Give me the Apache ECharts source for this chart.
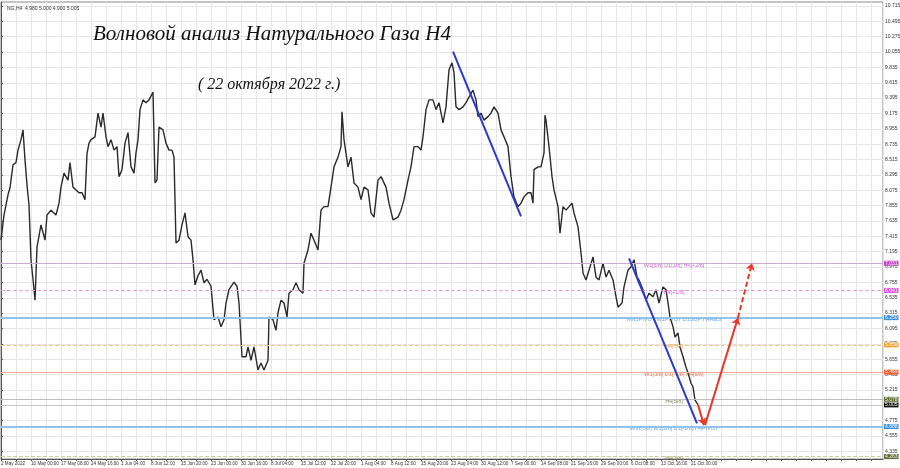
<!DOCTYPE html>
<html><head><meta charset="utf-8">
<script src="https://cdn.jsdelivr.net/npm/echarts/dist/echarts.min.js"></script>
<style>html,body{margin:0;padding:0;background:#fff}#c{width:900px;height:468px}</style>
</head><body><div id="c"></div>
<script>
// ---- data ----
const barIndex = [0,3,7,9,12,15,17,20,22,24,26,28,30,32,34,36,40,44,46,50,55,58,60,63,67,69,72,75,78,81,84,86,88,90,94,97,100,102,105,107,110,113,116,118,121,124,127,130,133,135,137,139,142,145,148,150,152,154,156,158,162,165,168,171,173,175,178,181,184,187,190,192,194,197,200,203,206,210,213,217,220,223,225,228,233,236,238,241,245,247,250,253,257,260,263,267,268,272,275,277,280,283,286,288,292,295,298,302,303,307,310,313,317,320,323,327,330,333,337,340,341,343,347,350,353,357,360,363,367,370,373,377,380,385,388,392,397,400,403,407,410,413,417,420,422,425,428,432,435,438,442,445,448,451,453,455,458,462,465,468,472,475,477,480,483,487,490,493,497,500,503,507,510,513,517,520,523,527,530,532,533,537,540,543,544,545,548,551,553,557,559,562,565,568,571,573,577,580,582,585,588,592,595,598,602,605,608,612,615,617,621,623,627,630,633,636,638,642,645,648,652,655,658,662,665,667,669,672,674,677,679,682,685,687,690,692,694,697];
const closePrice = [7.36,7.72,8.01,8.11,8.44,8.47,8.65,8.80,8.94,8.51,8.15,7.86,7.08,6.80,6.50,7.26,7.58,7.36,7.72,7.79,7.72,7.89,8.12,8.32,8.22,8.47,8.12,8.08,8.04,8.04,7.94,8.60,8.75,8.80,8.84,9.18,8.98,9.18,8.84,8.70,8.80,8.65,8.70,8.27,8.37,8.75,8.90,8.41,8.32,8.61,8.80,9.23,9.37,9.33,9.37,9.37,9.48,8.18,8.22,8.98,8.94,8.75,8.65,8.65,8.55,7.32,7.36,7.58,7.75,7.41,7.36,7.08,6.72,6.85,6.93,6.75,6.80,6.70,6.22,6.26,6.12,6.22,6.46,6.65,6.76,6.70,6.46,5.69,5.69,5.83,5.64,5.83,5.50,5.60,5.50,5.64,6.26,6.22,6.07,6.32,6.50,6.46,6.26,6.60,6.65,6.75,6.65,6.60,7.03,7.22,7.46,7.36,7.22,7.79,7.84,7.84,8.12,8.41,8.55,8.70,9.20,8.80,8.41,8.55,8.18,8.12,7.94,8.12,8.08,7.75,7.69,8.22,8.27,8.12,7.89,7.65,7.69,7.79,7.94,8.22,8.41,8.70,8.70,8.65,8.84,9.23,9.37,9.37,9.23,9.33,9.04,9.27,9.80,9.90,9.76,9.27,9.23,9.27,9.33,9.41,9.51,9.37,9.13,9.18,9.08,9.13,9.18,9.27,9.18,8.94,8.84,8.70,8.27,7.98,7.84,7.89,7.98,8.04,8.04,7.89,8.37,8.41,8.41,8.61,9.15,9.08,8.70,8.27,8.08,7.84,7.46,7.84,7.79,7.84,7.89,7.75,7.55,7.18,6.89,6.79,6.93,7.12,6.83,6.79,7.03,6.83,6.93,6.79,6.55,6.40,6.46,6.69,6.93,6.98,7.08,6.83,6.79,6.65,6.50,6.60,6.55,6.65,6.46,6.69,6.65,6.46,6.26,6.12,5.97,6.03,5.83,5.69,5.54,5.46,5.31,5.26,5.07,5.005];
const yTickValues = [4.335,4.555,4.775,4.995,5.215,5.435,5.655,5.875,6.095,6.315,6.535,6.755,6.975,7.195,7.415,7.635,7.855,8.075,8.295,8.515,8.735,8.955,9.175,9.395,9.615,9.835,10.055,10.275,10.495,10.715];
const xTickLabels = ['2 May 2022','10 May 00:00','17 May 08:00','24 May 16:00','1 Jun 04:00','8 Jun 12:00','15 Jun 20:00','23 Jun 00:00','30 Jun 16:00','8 Jul 04:00','15 Jul 12:00','22 Jul 20:00','1 Aug 04:00','8 Aug 12:00','15 Aug 20:00','23 Aug 04:00','30 Aug 12:00','7 Sep 00:00','14 Sep 08:00','21 Sep 16:00','29 Sep 00:00','6 Oct 08:00','13 Oct 16:00','21 Oct 00:00'];
const levelValues = [7.031,6.641,6.250,5.859,5.469,5.078,5.005,4.688,4.263];
const levelTexts = ['W1[5/8] D1[1/8] H4[+2/8]','H4[+1/8]','MN1PIVOT W1PIVOT D1SUP H4RES','H4[7/8]','W1[3/8] D1[-1/8] H4[6/8]','H4[5/8]','','MN1[3/8] W1[2/8] D1[-2/8] H4PIVOT','H4[3/8]'];
const waveA = [[452,10.06],[520,7.70]];
const waveB = [[628,7.10],[696,4.736]];
const forecastDown = [[697,5.00],[703,4.71]];
const forecastUp = [[704,4.71],[737,6.25]];
const forecastNext = [[737,6.25],[751,7.03]];
const headerText = 'NG,H4  4.980 5.000 4.900 5.005';
const titleText = 'Волновой анализ Натурального Газа H4';
const dateText = '( 22 октября 2022 г.)';

// ---- styles ----
const levelStyle = [
  {line:'#cfa9d6', type:'solid', w:1, box:'#c23fc6', txt:'#b93cc0'},
  {line:'#e5a6cf', type:'dashed', w:1, box:'#e04ee0', txt:'#c83fc8'},
  {line:'#8fc3ec', type:'solid', w:2, box:'#3a8fe0', txt:'#3f8fd8'},
  {line:'#f4c98e', type:'dashed', w:1, box:'#f0a22e', txt:'#d88f1c'},
  {line:'#f2ab98', type:'solid', w:1, box:'#ee5a2a', txt:'#d8602c'},
  {line:'#bdbdbd', type:'solid', w:1, box:'#5c6b30', txt:'#5f6c35'},
  {line:'#c8c8c8', type:'solid', w:1, box:'#111111', txt:'#333'},
  {line:'#8fc3ec', type:'solid', w:2, box:'#3a8fe0', txt:'#3f8fd8'},
  {line:'#cfcf9a', type:'dashed', w:1, box:'#5c6b30', txt:'#77774a'}
];
const LABEL_X = 673;

const chart = echarts.init(document.getElementById('c'));

chart.setOption({
  animation: false,
  backgroundColor: '#ffffff',
  title: [
    {text: headerText, left: 2, top: 1, textStyle: {fontSize: 5, fontWeight: 'normal', color: '#333', fontFamily: 'Liberation Sans'}},
    {text: titleText, left: 88, top: 19, textStyle: {fontSize: 21, fontStyle: 'italic', fontWeight: 'normal', color: '#111', fontFamily: 'Liberation Serif'}},
    {text: dateText, left: 193, top: 72, textStyle: {fontSize: 16, fontStyle: 'italic', fontWeight: 'normal', color: '#111', fontFamily: 'Liberation Serif'}}
  ],
  grid: {left: 1, right: 17, top: 2, bottom: 9, show: true, borderColor: '#8a8a8a', borderWidth: 1, containLabel: false, outerBoundsMode: 'none'},
  xAxis: {
    type: 'value', min: 0, max: 882, interval: 15,
    axisLine: {show: true, lineStyle: {color: '#555'}},
    axisTick: {show: true, length: 2, lineStyle: {color: '#555'}},
    splitLine: {show: true, lineStyle: {color: '#e6e6e6', width: 1}},
    axisLabel: {
      fontSize: 4.6, color: '#333', margin: 2, align: 'left', fontFamily: 'Liberation Sans',
      showMinLabel: true, showMaxLabel: false,
      formatter: v => (v % 30 === 0 && xTickLabels[v / 30]) ? xTickLabels[v / 30] : ''
    }
  },
  yAxis: {
    type: 'value', position: 'right', min: 4.225, max: 10.772, scale: true,
    axisLine: {show: true, lineStyle: {color: '#555'}},
    axisTick: {show: true, length: 2, customValues: yTickValues, lineStyle: {color: '#555'}},
    splitLine: {show: true, lineStyle: {color: '#e6e6e6', width: 1}},
    axisLabel: {fontSize: 5, color: '#333', margin: 2, fontFamily: 'Liberation Sans', customValues: yTickValues, formatter: v => v.toFixed(3)}
  },
  series: [
    {
      name: 'NG', type: 'line', showSymbol: false, symbol: 'none',
      data: barIndex.map((x, i) => [x, closePrice[i]]),
      lineStyle: {color: '#2a2a2a', width: 1.4},
      z: 3,
      markLine: {
        silent: true, symbol: ['none', 'none'], animation: false,
        data: levelValues.map((v, i) => ({
          yAxis: v,
          lineStyle: {color: levelStyle[i].line, type: levelStyle[i].type, width: levelStyle[i].w},
          label: {show: true, position: 'end', distance: 1, formatter: () => v.toFixed(3),
            backgroundColor: levelStyle[i].box, color: '#fff', fontSize: 5, padding: [0, 1], fontFamily: 'Liberation Sans'}
        }))
      }
    },
    {
      name: 'levelText', type: 'scatter', symbolSize: 0, z: 4, silent: true,
      data: levelValues.map((v, i) => ({value: [LABEL_X, v, levelTexts[i]],
        label: {color: levelStyle[i].txt}})).filter(d => d.value[2] !== ''),
      label: {show: true, position: 'inside', offset: [0, 2], fontSize: 5.5, fontFamily: 'Liberation Sans', formatter: p => p.value[2]}
    },
    {
      name: 'waveA', type: 'line', showSymbol: false, symbol: 'none', data: waveA, z: 5,
      lineStyle: {color: '#2b3bd0', width: 2}
    },
    {
      name: 'waveB', type: 'line', showSymbol: false, symbol: 'none', data: waveB, z: 5,
      lineStyle: {color: '#2b3bd0', width: 2}
    },
    {
      name: 'forecast', type: 'line', data: [], z: 6,
      markLine: {
        silent: true, symbol: ['none', 'arrow'], symbolSize: 7, animation: false,
        label: {show: false},
        data: [
          [{coord: forecastDown[0], lineStyle: {color: '#e8382b', width: 2, type: 'solid'}}, {coord: forecastDown[1]}],
          [{coord: forecastUp[0], lineStyle: {color: '#e8382b', width: 2, type: 'solid'}}, {coord: forecastUp[1]}],
          [{coord: forecastNext[0], lineStyle: {color: '#e8382b', width: 2, type: [5, 3]}}, {coord: forecastNext[1]}]
        ]
      }
    }
  ]
});
</script>
</body></html>
